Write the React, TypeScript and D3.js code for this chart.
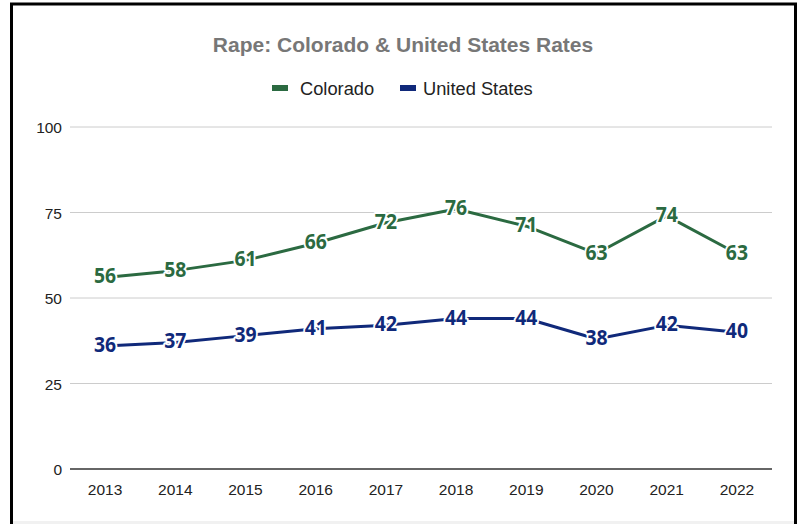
import React from "react";
import * as d3 from "d3";

const years = ["2013", "2014", "2015", "2016", "2017", "2018", "2019", "2020", "2021", "2022"];
const colorado = [56, 58, 61, 66, 72, 76, 71, 63, 74, 63];
const unitedStates = [36, 37, 39, 41, 42, 44, 44, 38, 42, 40];
const yTicks = [0, 25, 50, 75, 100];
const seriesNames = ["Colorado", "United States"];
const seriesColors = ["#2b6a41", "#10297a"];

const W = 802;
const H = 524;
const left = 70;
const right = 772;
const top = 127;
const bottom = 469;

export default function App() {
  const x = d3.scaleBand<string>().domain(years).range([left, right]);
  const y = d3.scaleLinear().domain([0, 100]).range([bottom, top]);
  const cx = (i: number) => (x(years[i]) as number) + x.bandwidth() / 2;
  const line = d3
    .line<number>()
    .x((_, i) => cx(i))
    .y((d) => y(d));
  const series = [colorado, unitedStates];

  return (
    <svg
      width={W}
      height={H}
      style={{ position: "absolute", left: 0, top: 0, background: "#fff" }}
    >
      <rect x={0} y={0} width={W} height={H} fill="#fff" />
      <rect x={11.5} y={4} width={784} height={530} fill="none" stroke="#000" strokeWidth={3} />
      <rect x={13} y={521} width={781} height={3} fill="#f1f1f1" />
      <text
        x={403}
        y={52}
        textAnchor="middle"
        fontFamily="Liberation Sans, Arial, sans-serif"
        fontWeight="bold"
        fontSize={21}
        fill="#777777"
      >
        Rape: Colorado &amp; United States Rates
      </text>
      <g fontFamily="Liberation Sans, Arial, sans-serif" fontSize={18.3} fill="#222">
        <rect x={272} y={85} width={16} height={6} fill={seriesColors[0]} />
        <text x={300} y={95}>{seriesNames[0]}</text>
        <rect x={400} y={85} width={16} height={6} fill={seriesColors[1]} />
        <text x={423} y={95}>{seriesNames[1]}</text>
      </g>
      {yTicks.map((t) => (
        <g key={t}>
          <line
            x1={left}
            x2={right}
            y1={y(t)}
            y2={y(t)}
            stroke={t === 0 ? "#333" : "#cccccc"}
            strokeWidth={t === 0 ? 1.5 : 1}
          />
          <text
            x={62}
            y={y(t) + 6}
            textAnchor="end"
            fontFamily="Liberation Sans, Arial, sans-serif"
            fontSize={15.5}
            fill="#222"
          >
            {t}
          </text>
        </g>
      ))}
      {years.map((yr, i) => (
        <text
          key={yr}
          x={cx(i)}
          y={495}
          textAnchor="middle"
          fontFamily="Liberation Sans, Arial, sans-serif"
          fontSize={15.5}
          fill="#222"
        >
          {yr}
        </text>
      ))}
      {series.map((s, si) => (
        <path
          key={si}
          d={line(s) || ""}
          fill="none"
          stroke={seriesColors[si]}
          strokeWidth={3}
          strokeLinejoin="round"
        />
      ))}
      {series.map((s, si) =>
        s.map((v, i) => (
          <text
            key={`${si}-${i}`}
            transform={`translate(${cx(i)},${y(v) + 6}) scale(0.9,1)`}
            textAnchor="middle"
            fontFamily="Noto Sans, Open Sans, sans-serif"
            fontWeight="bold"
            fontSize={21.5}
            fill={seriesColors[si]}
            stroke="#fff"
            strokeWidth={4}
            strokeLinejoin="round"
            paintOrder="stroke"
          >
            {v}
          </text>
        ))
      )}
    </svg>
  );
}
